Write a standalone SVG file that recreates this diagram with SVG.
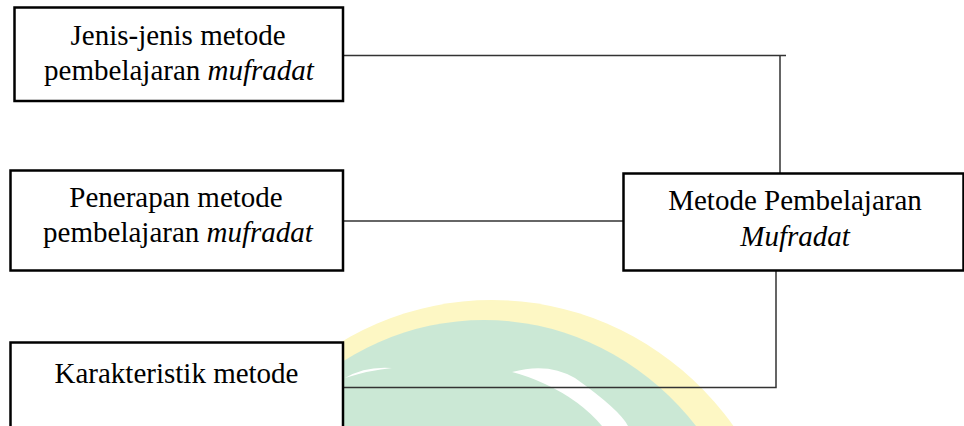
<svg xmlns="http://www.w3.org/2000/svg" width="964" height="426" viewBox="0 0 964 426">
<style>
.box{fill:#fff;stroke:#000;stroke-width:2.5}
.t{font-family:"Liberation Serif","Times New Roman",serif;font-size:29px;fill:#000;text-anchor:middle}
.i{font-style:italic}
.c{stroke:#333;stroke-width:1.5;fill:none}
</style>
<rect width="964" height="426" fill="#fff"/>
<g id="watermark">
<ellipse cx="492" cy="610" rx="300" ry="310" fill="#fdf7c4"/>
<ellipse cx="484" cy="612" rx="275" ry="292" fill="#cbe8d5"/>
<path d="M345,378 Q365,366 392,368 Q370,370 345,378 Z" fill="#fff"/>
<path d="M512,372 Q548,362 575,378 Q620,410 628,426 L602,426 Q580,400 545,384 Q528,376 512,372 Z" fill="#fff"/>
</g>
<g id="connectors">
<path class="c" d="M344,55.5 H786 M780,55.5 V173"/>
<path class="c" d="M344,221 H623"/>
<path class="c" d="M776,271 V387.5 H344"/>
</g>
<g id="n1">
<rect class="box" x="14.5" y="7.5" width="328.5" height="93.5"/>
<text class="t" x="178" y="45">Jenis-jenis metode</text>
<text class="t" x="179" y="80">pembelajaran <tspan class="i">mufradat</tspan></text>
</g>
<g id="n2">
<rect class="box" x="10.5" y="170.5" width="332.5" height="100"/>
<text class="t" x="176" y="207">Penerapan metode</text>
<text class="t" x="178" y="242">pembelajaran <tspan class="i">mufradat</tspan></text>
</g>
<g id="n3">
<rect class="box" x="623.5" y="173.5" width="340" height="97"/>
<text class="t" x="795" y="210">Metode Pembelajaran</text>
<text class="t i" x="795" y="246">Mufradat</text>
</g>
<g id="n4">
<rect class="box" x="10.5" y="342.5" width="332.5" height="100"/>
<text class="t" x="176.5" y="383">Karakteristik metode</text>
</g>
</svg>
